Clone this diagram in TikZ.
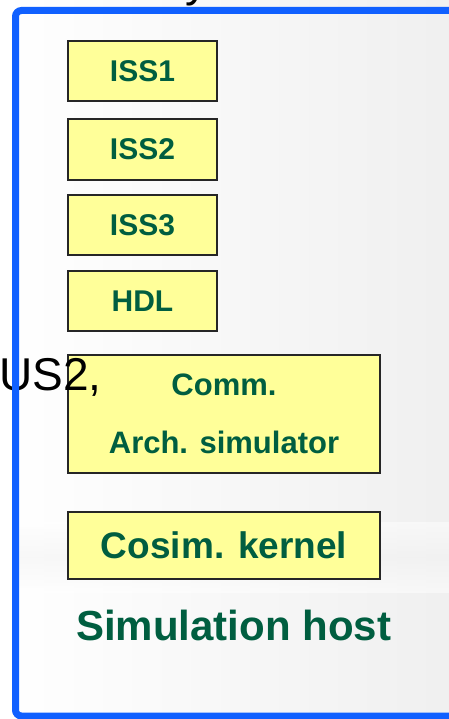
\documentclass[tikz,border=0pt]{standalone}
\usepackage{fontspec}
\setmainfont{Liberation Sans}
\usetikzlibrary{positioning}
\definecolor{hostblue}{RGB}{16,96,255}
\definecolor{hostgreen}{RGB}{0,94,64}
\definecolor{hostyellow}{RGB}{255,255,153}

\begin{document}
\begin{tikzpicture}[
    x=1pt, y=-1pt,
    simbox/.style={
        draw=black!85,
        line width=1.5pt,
        fill=hostyellow,
        text=hostgreen,
        font=\bfseries\fontsize{30}{36}\selectfont,
        align=center,
        inner sep=0pt,
        outer sep=0pt
    },
    smallbox/.style={
        simbox,
        minimum width=149pt,
        minimum height=60pt
    },
    widebox/.style={
        simbox,
        minimum width=312pt
    }
]

% page and background
\useasboundingbox (0,0) rectangle (449,719);
\shade[left color=white, right color=gray!12] (0,0) rectangle (449,719);
\shade[top color=white, bottom color=white, middle color=gray!10, opacity=.5]
    (19,522) rectangle (449,592);

% cut-off text above the frame
\node[anchor=base west, inner sep=0pt, font=\fontsize{46}{50}\selectfont] (title) at (185,-3) {y};

\node[smallbox] (iss1) at (142.5,71) {ISS1};

\node[
    smallbox,
    minimum height=61pt,
    below right=18pt and 0pt of iss1.south west
] (iss2) {ISS2};

\node[
    smallbox,
    below right=15pt and 0pt of iss2.south west
] (iss3) {ISS3};

\node[
    smallbox,
    below right=16pt and 0pt of iss3.south west
] (hdl) {HDL};

\node[
    widebox,
    minimum height=118pt,
    font=\bfseries\fontsize{31}{58}\selectfont,
    below right=24pt and 0pt of hdl.south west
] (comm) {Comm.\\Arch. simulator};

\node[
    widebox,
    minimum height=67pt,
    font=\bfseries\fontsize{37}{44}\selectfont,
    below right=39pt and 0pt of comm.south west
] (kernel) {Cosim. kernel};

\node[
    below=31pt of kernel,
    xshift=9.5pt,
    inner sep=0pt,
    text=hostgreen,
    font=\bfseries\fontsize{42}{50}\selectfont
] (host) {Simulation host};

% cut-off text on the left
\node[anchor=base west, inner sep=0pt, font=\fontsize{46}{50}\selectfont] (label) at (-1,390) {US2,};

% host frame, open to the right
\coordinate (frametop) at (449,10.5);
\coordinate (framebottom) at (449,716);
\draw[hostblue, line width=7pt, rounded corners=6pt] (frametop) -| (15.5,716) -- (framebottom);

\end{tikzpicture}
\end{document}
